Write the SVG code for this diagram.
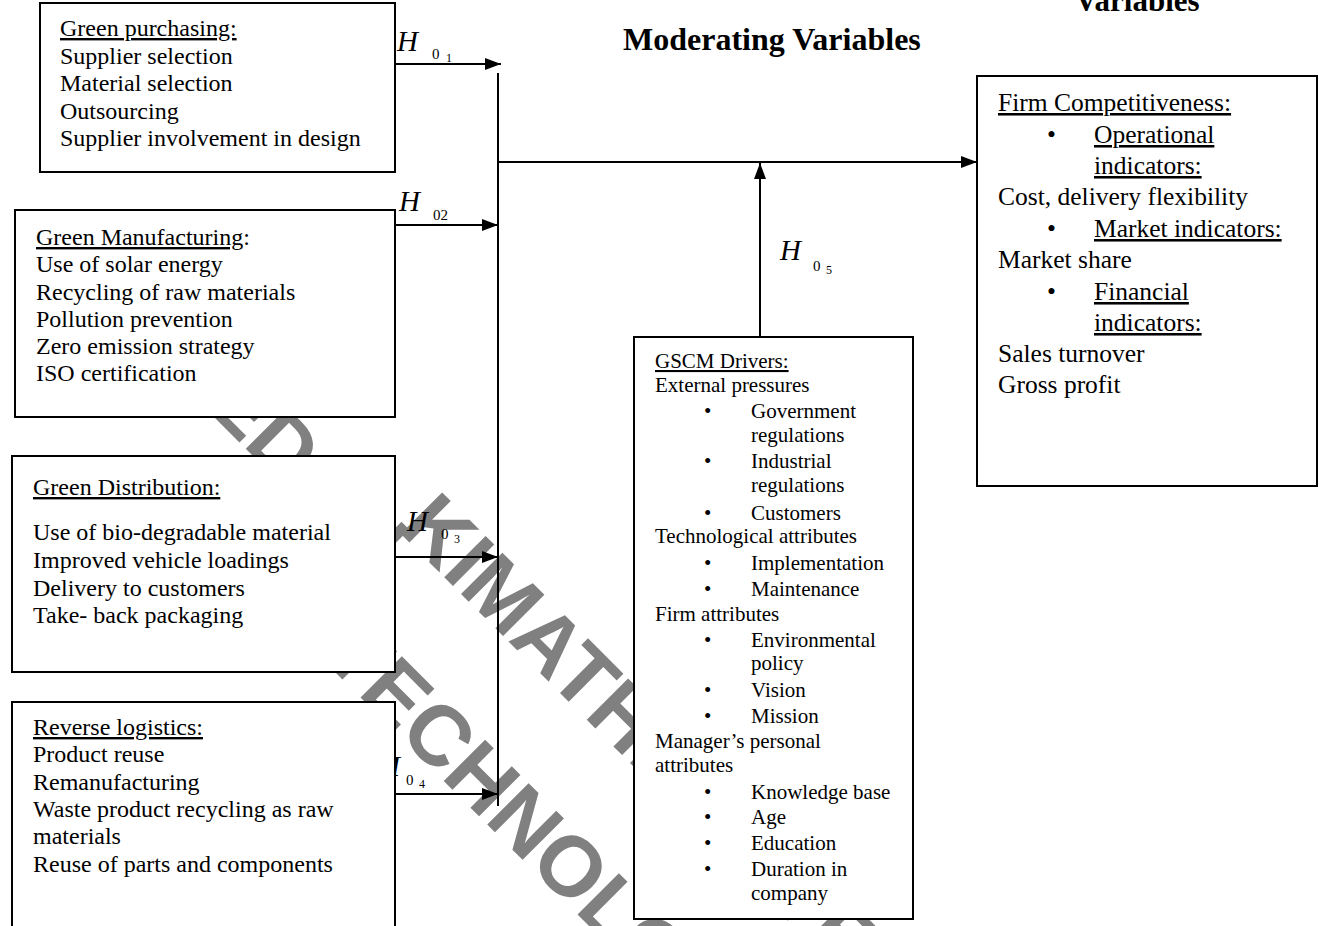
<svg xmlns="http://www.w3.org/2000/svg" width="1319" height="926" viewBox="0 0 1319 926">
<style>
  .box { fill: #fff; stroke: #000; stroke-width: 2; }
  .t { font-family: "Liberation Serif", "Times New Roman", serif; fill: #000; }
  .l { font-size: 24px; }
  .r { font-size: 25.5px; }
  .g { font-size: 21px; }
  .u { text-decoration: underline; }
  .h { font-family: "Liberation Serif", "Times New Roman", serif; font-style: italic; font-size: 29px; }
  .s { font-family: "Liberation Serif", "Times New Roman", serif; font-size: 15px; }
  .ss { font-family: "Liberation Serif", "Times New Roman", serif; font-size: 12px; }
  .title { font-family: "Liberation Serif", "Times New Roman", serif; font-weight: bold; }
  .wm { font-family: "Liberation Sans", Arial, sans-serif; font-weight: bold; font-size: 85px; fill: #808080; }
  .c { stroke: #000; stroke-width: 2; fill: none; }
</style>
<defs>
  <marker id="arr" markerUnits="userSpaceOnUse" markerWidth="16" markerHeight="12" refX="16" refY="6" orient="auto">
    <path d="M0,0 L16,6 L0,12 z" fill="#000"/>
  </marker>
</defs>
<rect width="1319" height="926" fill="#fff"/>

<g id="watermark">
  <g transform="translate(158.3,361.3) rotate(45)"><text class="wm" x="0" y="0">DEDAN</text></g>
  <g transform="translate(396.8,529.8) rotate(45)"><text class="wm" x="0" y="0">KIMATHI UNIVERSITY</text></g>
  <g transform="translate(219.5,556.6) rotate(45)"><text class="wm" x="0" y="0">OF TECHNOLOGY</text></g>
</g>

<g id="titles">
  <text class="title" x="623" y="50" font-size="32">Moderating Variables</text>
  <text class="title" x="1075" y="11" font-size="31">Variables</text>
</g>

<g id="labels">
  <g id="h01"><text class="h" x="397" y="51">H</text><text class="s" x="432" y="59">0</text><text class="ss" x="446" y="62">1</text></g>
  <g id="h02"><text class="h" x="399" y="211">H</text><text class="s" x="433" y="220">02</text></g>
  <g id="h03"><text class="h" x="407" y="531">H</text><text class="s" x="441" y="539">0</text><text class="ss" x="454" y="543">3</text></g>
  <g id="h04"><text class="h" x="379" y="776">H</text><text class="s" x="406" y="785">0</text><text class="ss" x="419" y="788">4</text></g>
  <g id="h05"><text class="h" x="780" y="260">H</text><text class="s" x="813" y="271">0</text><text class="ss" x="826" y="274">5</text></g>
</g>

<g id="connectors">
  <path class="c" d="M395,64 H501" marker-end="url(#arr)"/>
  <path class="c" d="M395,225 H498" marker-end="url(#arr)"/>
  <path class="c" d="M395,557 H498" marker-end="url(#arr)"/>
  <path class="c" d="M395,794 H498" marker-end="url(#arr)"/>
  <path class="c" d="M498,73 V806"/>
  <path class="c" d="M498,162 H977" marker-end="url(#arr)"/>
  <path class="c" d="M760,337 V163" marker-end="url(#arr)"/>
</g>

<g id="green-purchasing">
  <rect class="box" x="40" y="3" width="355" height="169"/>
  <text class="t l" x="60" y="36"><tspan class="u">Green purchasing:</tspan></text>
  <text class="t l" x="60" y="63.5">Supplier selection</text>
  <text class="t l" x="60" y="91">Material selection</text>
  <text class="t l" x="60" y="118.5">Outsourcing</text>
  <text class="t l" x="60" y="146">Supplier involvement in design</text>
</g>

<g id="green-manufacturing">
  <rect class="box" x="15" y="210" width="380" height="207"/>
  <text class="t l" x="36" y="245"><tspan class="u">Green Manufacturing</tspan>:</text>
  <text class="t l" x="36" y="272">Use of solar energy</text>
  <text class="t l" x="36" y="299.5">Recycling of raw materials</text>
  <text class="t l" x="36" y="327">Pollution prevention</text>
  <text class="t l" x="36" y="354">Zero emission strategy</text>
  <text class="t l" x="36" y="381">ISO certification</text>
</g>

<g id="green-distribution">
  <rect class="box" x="12" y="456" width="383" height="216"/>
  <text class="t l" x="33" y="495"><tspan class="u">Green Distribution:</tspan></text>
  <text class="t l" x="33" y="540">Use of bio-degradable material</text>
  <text class="t l" x="33" y="568">Improved vehicle loadings</text>
  <text class="t l" x="33" y="595.5">Delivery to customers</text>
  <text class="t l" x="33" y="623">Take- back packaging</text>
</g>

<g id="reverse-logistics">
  <rect class="box" x="12" y="702" width="383" height="240"/>
  <text class="t l" x="33" y="735"><tspan class="u">Reverse logistics:</tspan></text>
  <text class="t l" x="33" y="762">Product reuse</text>
  <text class="t l" x="33" y="790">Remanufacturing</text>
  <text class="t l" x="33" y="817">Waste product recycling as raw</text>
  <text class="t l" x="33" y="844">materials</text>
  <text class="t l" x="33" y="872">Reuse of parts and components</text>
</g>

<g id="firm-competitiveness">
  <rect class="box" x="977" y="76" width="340" height="410"/>
  <text class="t r" x="998" y="111"><tspan class="u">Firm Competitiveness:</tspan></text>
  <text class="t r" x="1047" y="143">•</text>
  <text class="t r" x="1094" y="143"><tspan class="u">Operational</tspan></text>
  <text class="t r" x="1094" y="174"><tspan class="u">indicators:</tspan></text>
  <text class="t r" x="998" y="205">Cost, delivery flexibility</text>
  <text class="t r" x="1047" y="237">•</text>
  <text class="t r" x="1094" y="237"><tspan class="u">Market indicators:</tspan></text>
  <text class="t r" x="998" y="268">Market share</text>
  <text class="t r" x="1047" y="300">•</text>
  <text class="t r" x="1094" y="300"><tspan class="u">Financial</tspan></text>
  <text class="t r" x="1094" y="331"><tspan class="u">indicators:</tspan></text>
  <text class="t r" x="998" y="362">Sales turnover</text>
  <text class="t r" x="998" y="393">Gross profit</text>
</g>

<g id="gscm-drivers">
  <rect class="box" x="634" y="337" width="279" height="582"/>
  <text class="t g" x="655" y="368"><tspan class="u">GSCM Drivers:</tspan></text>
  <text class="t g" x="655" y="392">External pressures</text>
  <text class="t g" x="704" y="418">•</text><text class="t g" x="751" y="418">Government</text>
  <text class="t g" x="751" y="442">regulations</text>
  <text class="t g" x="704" y="468">•</text><text class="t g" x="751" y="468">Industrial</text>
  <text class="t g" x="751" y="492">regulations</text>
  <text class="t g" x="704" y="520">•</text><text class="t g" x="751" y="520">Customers</text>
  <text class="t g" x="655" y="543">Technological attributes</text>
  <text class="t g" x="704" y="570">•</text><text class="t g" x="751" y="570">Implementation</text>
  <text class="t g" x="704" y="596">•</text><text class="t g" x="751" y="596">Maintenance</text>
  <text class="t g" x="655" y="621">Firm attributes</text>
  <text class="t g" x="704" y="647">•</text><text class="t g" x="751" y="647">Environmental</text>
  <text class="t g" x="751" y="670">policy</text>
  <text class="t g" x="704" y="697">•</text><text class="t g" x="751" y="697">Vision</text>
  <text class="t g" x="704" y="723">•</text><text class="t g" x="751" y="723">Mission</text>
  <text class="t g" x="655" y="748">Manager’s personal</text>
  <text class="t g" x="655" y="772">attributes</text>
  <text class="t g" x="704" y="799">•</text><text class="t g" x="751" y="799">Knowledge base</text>
  <text class="t g" x="704" y="824">•</text><text class="t g" x="751" y="824">Age</text>
  <text class="t g" x="704" y="850">•</text><text class="t g" x="751" y="850">Education</text>
  <text class="t g" x="704" y="876">•</text><text class="t g" x="751" y="876">Duration in</text>
  <text class="t g" x="751" y="900">company</text>
</g>
</svg>
